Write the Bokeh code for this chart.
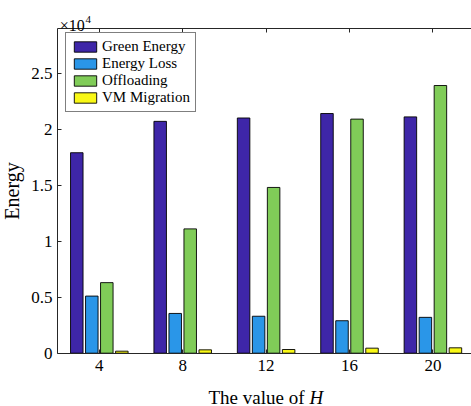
from bokeh.plotting import figure
from bokeh.models import (ColumnDataSource, FixedTicker, LinearAxis, Label,
                          Range1d, Legend)
from bokeh.transform import dodge
from bokeh.embed import file_html
from bokeh.resources import INLINE

# Energy per component for each value of H
H = [4, 8, 12, 16, 20]
green_energy = [17900, 20700, 21000, 21400, 21100]
energy_loss = [5100, 3550, 3300, 2900, 3200]
offloading = [6300, 11100, 14800, 20900, 23900]
vm_migration = [180, 300, 330, 450, 480]

series_names = ["Green Energy", "Energy Loss", "Offloading", "VM Migration"]
series_cols = ["green", "loss", "offload", "vm"]
series_colors = ["#3E26A8", "#2A96E8", "#80CC58", "#F9F816"]

ytick_values = [0, 5000, 10000, 15000, 20000, 25000]
ytick_labels = ["0", "0.5", "1", "1.5", "2", "2.5"]

source = ColumnDataSource(dict(H=H, green=green_energy, loss=energy_loss,
                               offload=offloading, vm=vm_migration))

FONT = "Liberation Serif"
AX = "#262626"

# axes box spans x in [2, 22] and y in [0, 29000]; the drawing area covers
# the whole canvas so that the axes sit at fixed data locations inside it
X_LO, X_HI = 2, 22
Y_LO, Y_HI = 0, 29000

p = figure(width=471, height=406, output_backend="svg", toolbar_location=None,
           x_range=Range1d(-0.739, 21.851), y_range=Range1d(-4759, 31491),
           min_border=0, x_axis_type=None, y_axis_type=None)
p.xgrid.visible = False
p.ygrid.visible = False
p.outline_line_color = None
p.background_fill_color = "white"
p.border_fill_color = "white"

pitch = 0.72
bar_w = 0.6
offsets = [-1.5 * pitch, -0.5 * pitch, 0.5 * pitch, 1.5 * pitch]
items = []
for name, col, color, off in zip(series_names, series_cols, series_colors, offsets):
    r = p.vbar(x=dodge("H", off), top=col, width=bar_w, source=source,
               fill_color=color, line_color="black", line_width=0.9)
    items.append((name, [r]))

legend = Legend(items=items, location=(65, 294),
                label_text_font=FONT, label_text_font_size="15px",
                label_text_color="black", label_height=15,
                glyph_width=28, glyph_height=13, spacing=0,
                padding=5, margin=0, label_standoff=3,
                border_line_color="black", border_line_width=1,
                background_fill_color="white", background_fill_alpha=1)
p.add_layout(legend, "center")


def style_axis(ax):
    ax.axis_line_color = AX
    ax.axis_line_width = 1
    ax.major_tick_line_color = AX
    ax.major_tick_in = 4
    ax.major_tick_out = 0
    ax.minor_tick_line_color = None
    ax.major_label_text_font = FONT
    ax.major_label_text_font_size = "17px"
    ax.major_label_text_color = "black"


# bottom axis
xaxis = LinearAxis(ticker=FixedTicker(ticks=H), fixed_location=Y_LO,
                   bounds=(X_LO, X_HI), major_label_standoff=7)
style_axis(xaxis)
p.add_layout(xaxis, "below")

# left axis
yaxis = LinearAxis(ticker=FixedTicker(ticks=ytick_values), fixed_location=X_LO,
                   bounds=(Y_LO, Y_HI), major_label_standoff=5,
                   major_label_overrides=dict(zip(ytick_values, ytick_labels)),
                   axis_label="Energy")
style_axis(yaxis)
yaxis.axis_label_text_font = FONT
yaxis.axis_label_text_font_size = "20px"
yaxis.axis_label_text_font_style = "normal"
yaxis.axis_label_text_color = "black"
yaxis.axis_label_standoff = 5
p.add_layout(yaxis, "left")

# top edge of the box with mirrored ticks
top_axis = LinearAxis(ticker=FixedTicker(ticks=H), fixed_location=Y_HI,
                      bounds=(X_LO, X_HI),
                      major_label_overrides={t: "" for t in H})
style_axis(top_axis)
p.add_layout(top_axis, "above")

# x axis title with italic symbol
p.add_layout(Label(x=13.842, y=-3911, text="The value of", text_align="right",
                   text_baseline="alphabetic", text_font=FONT,
                   text_font_size="19px", text_color="black"))
p.add_layout(Label(x=14.082, y=-3911, text="H", text_align="left",
                   text_baseline="alphabetic", text_font=FONT,
                   text_font_style="italic", text_font_size="19px",
                   text_color="black"))

# exponent marker for the y axis
p.add_layout(Label(x=2.105, y=29259, text="\u00d710", text_baseline="alphabetic",
                   text_font=FONT, text_font_size="16px", text_color="black"))
p.add_layout(Label(x=3.338, y=29839, text="4", text_baseline="alphabetic",
                   text_font=FONT, text_font_size="11px", text_color="black"))

open("out.html", "w").write(file_html(p, INLINE))
